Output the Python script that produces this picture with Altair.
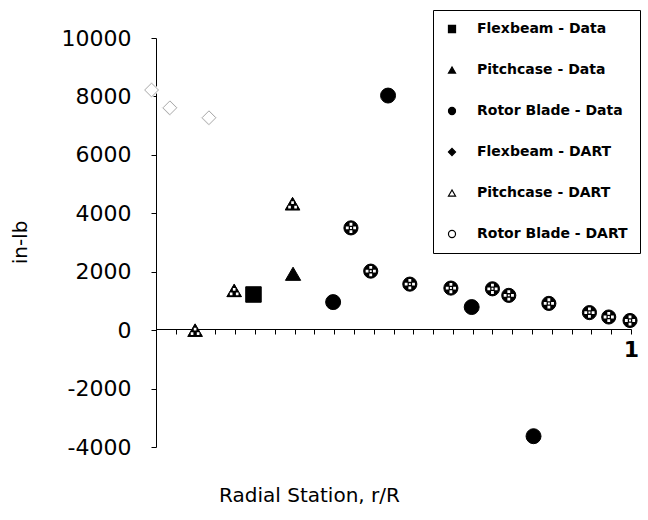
import altair as alt
import pandas as pd

# Series names, in legend order
SERIES = [
    "Flexbeam - Data",
    "Pitchcase - Data",
    "Rotor Blade - Data",
    "Flexbeam - DART",
    "Pitchcase - DART",
    "Rotor Blade - DART",
]

# Radial station (r/R) and moment (in-lb) for each series
flex_data_r = [0.237]
flex_data_m = [1220]

pitch_data_r = [0.317]
pitch_data_m = [1930]

rotor_data_r = [0.398, 0.509, 0.678, 0.803]
rotor_data_m = [960, 8030, 790, -3630]

flex_dart_r = [0.031, 0.068, 0.147]
flex_dart_m = [8220, 7610, 7270]

pitch_dart_r = [0.119, 0.198, 0.316]
pitch_dart_m = [0, 1360, 4330]

rotor_dart_r = [0.434, 0.474, 0.553, 0.636, 0.720, 0.753, 0.834, 0.916, 0.955, 0.998]
rotor_dart_m = [3500, 2020, 1575, 1440, 1415, 1190, 915, 600, 450, 330]

x_ticks = [round(0.04 * k, 2) for k in range(1, 26)]
y_ticks = list(range(-4000, 10001, 2000))

rows = []
for name, rs, ms in [
    (SERIES[0], flex_data_r, flex_data_m),
    (SERIES[1], pitch_data_r, pitch_data_m),
    (SERIES[2], rotor_data_r, rotor_data_m),
    (SERIES[3], flex_dart_r, flex_dart_m),
    (SERIES[4], pitch_dart_r, pitch_dart_m),
    (SERIES[5], rotor_dart_r, rotor_dart_m),
]:
    rows += [{"series": name, "r": r, "m": m} for r, m in zip(rs, ms)]
df = pd.DataFrame(rows)

FONT = "DejaVu Sans"

base = alt.Chart(df).encode(
    x=alt.X(
        "r:Q",
        scale=alt.Scale(domain=[0.04, 1.0], nice=False, zero=False),
        axis=alt.Axis(
            values=x_ticks,
            offset=-118,
            grid=False,
            domainColor="black",
            domainWidth=1,
            tickColor="black",
            tickSize=5,
            labelExpr="datum.value >= 0.999 ? '1' : ''",
            labelFlush=False,
            labelOverlap=False,
            labelFont=FONT,
            labelFontWeight="bold",
            labelFontSize=22,
            labelColor="black",
            labelPadding=5,
            title="Radial Station, r/R",
            titleFont=FONT,
            titleFontWeight="normal",
            titleFontSize=20,
            titleColor="black",
            titleX=153,
            titleY=166,
            titleAlign="center",
            titleBaseline="middle",
        ),
    ),
    y=alt.Y(
        "m:Q",
        scale=alt.Scale(domain=[-4000, 10000], nice=False, zero=False),
        axis=alt.Axis(
            values=y_ticks,
            grid=False,
            domainColor="black",
            domainWidth=1,
            tickColor="black",
            tickSize=5,
            labelExpr="'' + datum.value",
            labelFont=FONT,
            labelFontSize=22,
            labelColor="black",
            labelPadding=20,
            title="in-lb",
            titleFont=FONT,
            titleFontWeight="normal",
            titleFontSize=20,
            titleColor="black",
            titleX=-136,
            titleY=204,
            titleAlign="center",
            titleBaseline="middle",
        ),
    ),
)

shape_scale = alt.Scale(
    domain=SERIES,
    range=["square", "triangle-up", "circle", "diamond", "triangle-up", "circle"],
)
fill_scale = alt.Scale(
    domain=SERIES,
    range=["black", "black", "black", "black", "white", "white"],
)
stroke_scale = alt.Scale(domain=SERIES, range=["black"] * len(SERIES))
# marker areas, listed in reverse series order
size_scale = alt.Scale(
    domain=SERIES[::-1],
    range=[200, 240, 190, 310, 300, 270],
)

series_legend = alt.Legend(
    title=None,
    symbolStrokeWidth=1.2,
    symbolSize=50,
)

# Every point, carrying the legend
points = base.mark_point(filled=True, strokeWidth=1, opacity=1).encode(
    shape=alt.Shape("series:N", scale=shape_scale, legend=series_legend),
    fill=alt.Fill("series:N", scale=fill_scale, legend=series_legend),
    stroke=alt.Stroke("series:N", scale=stroke_scale, legend=series_legend),
    size=alt.Size("series:N", scale=size_scale, legend=None),
)

# DART flexbeam results: blanked out, then redrawn as faint open diamonds
flex_dart_blank = base.mark_point(
    shape="diamond", filled=True, fill="white", strokeWidth=0,
    size=290, opacity=1,
).transform_filter(alt.datum.series == SERIES[3])
flex_dart = base.mark_point(
    shape="diamond", filled=False, stroke="#a8a8a8", strokeWidth=1,
    size=190, opacity=1,
).transform_filter(alt.datum.series == SERIES[3])

# Cross-hatched fill for the DART rotor blade and pitchcase results
circle_holes = (
    "M-0.2,-0.72h0.4v0.4h-0.4z M-0.2,0.32h0.4v0.4h-0.4z "
    "M-0.72,-0.2h0.4v0.4h-0.4z M0.32,-0.2h0.4v0.4h-0.4z "
    "M-0.14,-0.14h0.28v0.28h-0.28z"
)
triangle_holes = (
    "M-0.56,0.28h0.34v0.34h-0.34z M0.22,0.28h0.34v0.34h-0.34z "
    "M-0.17,-0.3h0.34v0.34h-0.34z"
)

rotor_dart_fill = base.mark_point(
    shape="circle", filled=True, fill="black", size=200, opacity=1
).transform_filter(alt.datum.series == SERIES[5])
rotor_dart_hatch = base.mark_point(
    shape=circle_holes, filled=True, fill="white", size=200, opacity=1
).transform_filter(alt.datum.series == SERIES[5])

pitch_dart_fill = base.mark_point(
    shape="triangle-up", filled=True, fill="black", size=240, opacity=1
).transform_filter(alt.datum.series == SERIES[4])
pitch_dart_hatch = base.mark_point(
    shape=triangle_holes, filled=True, fill="white", size=240, opacity=1
).transform_filter(alt.datum.series == SERIES[4])

chart = (
    alt.layer(
        points, flex_dart_blank, flex_dart,
        rotor_dart_fill, rotor_dart_hatch,
        pitch_dart_fill, pitch_dart_hatch,
    )
    .properties(
        width=475,
        height=409,
        background="white",
        autosize=alt.AutoSizeParams(type="none"),
        padding={"left": 156, "top": 38, "right": 17, "bottom": 73},
    )
    .configure_view(strokeWidth=0)
    .configure_legend(
        orient="none",
        legendX=277,
        legendY=-28,
        strokeColor="black",
        fillColor="white",
        padding=12,
        rowPadding=27,
        labelOffset=18,
        labelFont=FONT,
        labelFontWeight="bold",
        labelFontSize=14,
        labelColor="black",
        labelLimit=300,
        symbolSize=50,
        symbolStrokeWidth=1.2,
    )
)

chart.save("out.html", embed_options={"renderer": "svg", "actions": False})
